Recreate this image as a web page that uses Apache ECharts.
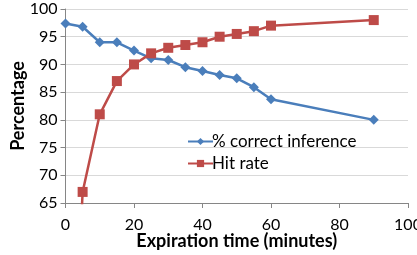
<!DOCTYPE html>
<html><head><meta charset="utf-8">
<script src="https://cdn.jsdelivr.net/npm/echarts@6/dist/echarts.min.js"></script>
<style>html,body{margin:0;padding:0;background:#fff}#c{width:417px;height:255px}</style>
</head><body><div id="c"></div>
<script>
const minutes = [0, 5, 10, 15, 20, 25, 30, 35, 40, 45, 50, 55, 60, 90];
const correctInference = [97.4, 96.8, 94.0, 94.0, 92.5, 91.1, 90.8, 89.5, 88.8, 88.1, 87.5, 85.9, 83.7, 80.0];
const hitRate = [0, 67.0, 81.0, 87.0, 90.0, 92.0, 93.0, 93.5, 94.0, 95.0, 95.5, 96.0, 97.0, 98.0];
const seriesNames = ['% correct inference', 'Hit rate'];
const FONT = 'Lato';
const chart = echarts.init(document.getElementById('c'));
chart.setOption({
  animation: false,
  textStyle: {fontFamily: FONT},
  grid: {left: 65.5, right: 9, top: 9, bottom: 52, containLabel: false, outerBoundsMode: 'none'},
  legend: {
    orient: 'vertical', left: 182, top: 128, itemWidth: 25, itemHeight: 9, itemGap: 5,
    textStyle: {fontFamily: FONT, fontSize: 17, color: '#000', padding: [0,0,0,-6]},
    data: seriesNames
  },
  xAxis: {
    type: 'value', min: 0, max: 100, interval: 20,
    name: 'Expiration time (minutes)', nameLocation: 'middle', nameGap: 29, nameMoveOverlap: false,
    nameTextStyle: {fontFamily: FONT, fontSize: 18, fontWeight: 'bold', color: '#000'},
    axisLine: {lineStyle: {color: '#868686', width: 1}},
    axisTick: {show: true, inside: false, length: 5, lineStyle: {color: '#868686'}},
    axisLabel: {fontFamily: FONT, fontSize: 16, color: '#000', margin: 14},
    splitLine: {show: false}
  },
  yAxis: {
    type: 'value', min: 65, max: 100, interval: 5,
    name: 'Percentage', nameLocation: 'middle', nameGap: 38, nameMoveOverlap: false, nameRotate: 90,
    nameTextStyle: {fontFamily: FONT, fontSize: 18, fontWeight: 'bold', color: '#000'},
    axisLine: {show: true, lineStyle: {color: '#868686', width: 1}},
    axisTick: {show: true, inside: false, length: 5, lineStyle: {color: '#868686'}},
    axisLabel: {fontFamily: FONT, fontSize: 16, color: '#000', margin: 8},
    splitLine: {show: true, lineStyle: {color: '#d9d9d9', width: 1}}
  },
  series: [
    {
      name: seriesNames[0], type: 'line', clip: true,
      data: minutes.map((m, i) => [m, correctInference[i]]),
      symbol: 'diamond', symbolSize: 10,
      lineStyle: {color: '#4a7ebb', width: 2.5},
      itemStyle: {color: '#4a7ebb'}
    },
    {
      name: seriesNames[1], type: 'line', clip: true,
      data: minutes.map((m, i) => [m, hitRate[i]]),
      symbol: 'rect', symbolSize: 10,
      lineStyle: {color: '#be4b48', width: 2.5},
      itemStyle: {color: '#be4b48'}
    }
  ]
});
</script></body></html>
